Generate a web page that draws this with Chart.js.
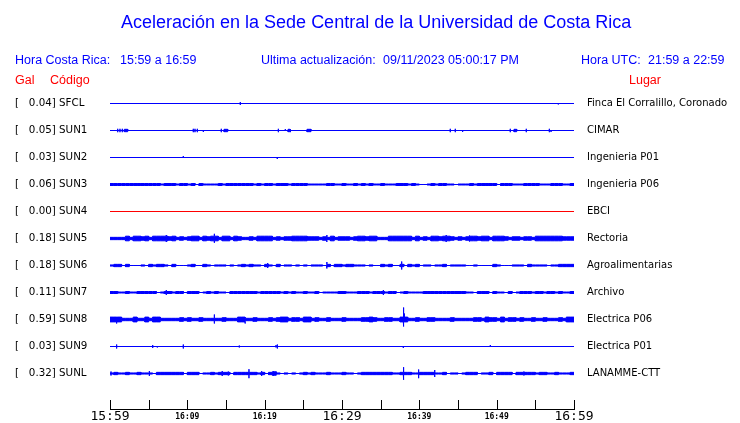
<!DOCTYPE html>
<html>
<head>
<meta charset="utf-8">
<script src="https://cdn.jsdelivr.net/npm/chart.js@4.4.0/dist/chart.umd.min.js"></script>
<style>
  body { margin: 0; background: #fff; }
  #wrap { position: relative; width: 740px; height: 423px; font-family: "Liberation Sans", Arial, sans-serif; }
  #wrap canvas { position: absolute; left: 0; top: 0; }
  .t { position: absolute; white-space: pre; font-size: 12.5px; line-height: 14px; color: #0000ff; }
  .red { color: #ff0000; }
  #title { position: absolute; left: 121px; top: 11px; font-size: 18px; line-height: 22px; color: #0000ff; white-space: pre; }
</style>
</head>
<body>
<div id="wrap">
  <canvas id="grafico" width="740" height="423"></canvas>
  <div id="title">Aceleración en la Sede Central de la Universidad de Costa Rica</div>
  <div class="t" style="left:15px; top:53px">Hora Costa Rica:</div>
  <div class="t" style="left:120px; top:53px">15:59 a 16:59</div>
  <div class="t" style="left:261px; top:53px">Ultima actualización:</div>
  <div class="t" style="left:383px; top:53px">09/11/2023 05:00:17 PM</div>
  <div class="t" style="left:581px; top:53px">Hora UTC:</div>
  <div class="t" style="left:648px; top:53px">21:59 a 22:59</div>
  <div class="t red" style="left:15px; top:73px">Gal</div>
  <div class="t red" style="left:50px; top:73px">Código</div>
  <div class="t red" style="left:629px; top:73px">Lugar</div>
</div>
<script>
// estaciones
const codes = ['SFCL', 'SUN1', 'SUN2', 'SUN3', 'SUN4', 'SUN5', 'SUN6', 'SUN7', 'SUN8', 'SUN9', 'SUNL'];
const gal = [0.04, 0.05, 0.03, 0.06, 0.00, 0.18, 0.18, 0.11, 0.59, 0.03, 0.32];
const places = ['Finca El Corralillo, Coronado', 'CIMAR', 'Ingenieria P01', 'Ingenieria P06', 'EBCI', 'Rectoria',
  'Agroalimentarias', 'Archivo', 'Electrica P06', 'Electrica P01', 'LANAMME-CTT'];
const timeLabels = ['15:59', '16:09', '16:19', '16:29', '16:39', '16:49', '16:59'];

// nivel de ruido cada medio minuto (0 = linea fina)
const sun3Noise = [1,1,1,1,1,1,1,1,1,1,1,1,1, .5,1,1,1,.5,1,1,.5,1,0,1,.5,.5,.5,.5,1,.5,
  1,1,1,1,1,1,1,.5,1,.5,1,1,.5,1,1,1, .5,1,1,1,1,.5,.5,.5,.5,.5,1,1,.5,.5,
  1,.5,.5,1,.5,1,.5,1,.5,.5,1,.5,.5,.5,1,1,1,.5,1,.5,
  0,0,.5,1,.5,1,1,.5,.5,0,.5,.5,.5,1,.5,1,1,1,1,1,
  0,1,1,1,.5,.5,.5,1,1,1,1,.5,.5,.5,1,1,1,.5,.5,1];
const sun5Noise = [1,1,1,1,2,1,2,2,1.5,2,1,2,2,2,2,1.5,2,1,1.5,1,
  1.5,2,2,1,2,1.5,2,2,1,2,2,1,2,1.5,1,1,1.5,1,2,2,
  2,2,1,1.5,1,1.5,1.5,2,2,2,2,1.5,1.5,1.5,1,1.5,1,2,1,1.5,
  1.5,1.5,1,1.5,2,2,1.5,2,2,1,1,1,2,2,2,2,2,2,1,2,
  1,1.5,1,2,2,1.5,2,2,1.5,1,1.5,1,1.5,2,2,1.5,2,2,1,2,
  2,2,1.5,1,1.5,1.5,1,1.5,1.5,1,2,2,2,2,2,2,2,1.5,1.5,1.5];
const sun6Noise = [.5,1,1,0,1,0,0,0,.5,0,1,.5,1,1,.5,0,1,0,0,0,
  .5,1,0,0,1,.5,0,.5,.5,.5,0,.5,0,.5,1,.5,1,.5,.5,0,
  1,.5,0,1,0,.5,.5,0,.5,0,.5,0,.5,.5,.5,0,1,0,1,1,
  .5,1,1,.5,.5,.5,0,.5,0,0,1,.5,1,0,0,1,0,1,.5,1,
  0,.5,.5,0,.5,.5,1,0,.5,.5,.5,.5,0,0,.5,0,0,0,0,1,
  .5,0,0,0,.5,.5,.5,0,1,.5,.5,.5,.5,0,.5,.5,1,1,1,1];
const sun7Noise = [1,1,.5,.5,1,.5,.5,1,1,1,1,1,0,.5,1,1,.5,1,1,0,
  1,1,1,0,.5,1,.5,1,.5,.5,0,1,1,1,1,1,1,1,.5,1,
  1,1,1,1,.5,1,.5,1,.5,.5,1,.5,.5,1,0,.5,.5,.5,.5,1,
  1,.5,.5,.5,1,1,1,.5,1,1,1,.5,1,1,0,.5,1,.5,.5,.5,
  .5,1,1,1,1,1,1,1,1,1,1,1,.5,.5,0,1,1,1,0,1,
  .5,.5,0,1,0,.5,1,1,1,.5,1,1,.5,1,1,.5,1,.5,.5,1];
const sun8Noise = [2,2,2,1,1,1,2,1,1,2,1,2,2,1,1,1,1,1,1.5,1,
  1.5,1,1,1.5,1,1,1,1,1,1.5,1,1,1,2,2,1,1,1.5,1,1,
  1,1.5,1,1.5,2,2,1,1.5,1.5,1,2,2,1,1.5,1,1,1.5,1,1,1,
  1.5,1,1,1,1,1.5,1.5,2,1.5,1,1,1.5,1.5,1,1,2,2,1,1,1.5,
  1,1,1.5,1.5,1,1,1,1,1.5,1,1,1,1,1,1.5,1.5,1,2,1.5,1.5,
  1,2,1,1.5,1.5,1,1.5,1,1,1.5,1,1,1.5,1,1,1,1.5,1,2,2];
const sunlNoise = [.5,1,.5,.5,1,.5,.5,1,.5,.5,.5,0,1,1,1,1,1,1,1,0,
  1,1,1,0,.5,.5,1,.5,1,1,1,0,1,1,1,1,1,1,.5,1,
  0,1,1.5,.5,0,.5,0,.5,0,.5,1,.5,1,.5,.5,.5,1,.5,.5,.5,
  1,.5,.5,0,.5,1,1,1,1,1,1,1,1,.5,.5,1,1,1,.5,.5,
  1,1,1,1,.5,.5,1,0,.5,.5,0,.5,1,1,1,0,.5,.5,1,0,
  1,1,1,1,0,1,1,1,1,1,.5,1,1,.5,.5,1,.5,.5,.5,1];

// picos: [minuto, arriba, abajo]
const sfclSpikes = [[16.85, 1.5, 1.5], [57.97, 0, 1]];
const sun1Spikes = [[1.0, 1.7, 1.7], [1.29, 1.7, 1.7], [1.59, 1.7, 1.7], [10.77, 1.7, 1.7], [10.99, 1.7, 1.7],
  [11.29, 1.7, 1.7], [12.07, 0, 1.5], [14.39, 1.7, 1.7], [21.77, 1.7, 1.7], [22.67, 1.5, 0], [23.36, 0, 1.5],
  [44.0, 1.7, 1.7], [44.65, 1.7, 1.7], [45.6, 0, 1.5], [51.76, 1.7, 1.7], [53.83, 1.7, 1.7], [56.81, 1.7, 1.7], [57.03, 0, 1.5]];
const sun1Bursts = [[1.85, 2.29, 1.2], [14.74, 15.22, 1.2], [23.02, 23.28, 1.2], [25.47, 25.99, 1.2], [52.24, 52.59, 1.2]];
const sun2Spikes = [[9.48, 1.5, 0], [21.63, 0, 1.5]];
const sun5Spikes = [[7.28, 3.5, 3.5], [13.49, 4.7, 4.3], [28.06, 3.5, 3.5], [43.45, 3.5, 3.5], [46.46, 3, 3]];
const sun6Spikes = [[20.39, 2.5, 2.5], [28.06, 3.5, 3], [37.72, 4, 4]];
const sun7Spikes = [[7.28, 2.5, 2.5], [35.35, 2.5, 2.5]];
const sun8Spikes = [[0.86, 2.5, 4], [13.49, 5, 4], [17.46, 2, 4], [37.93, 12, 7], [38.06, 6, 2]];
const sun9Spikes = [[0.86, 2, 2], [5.52, 1.5, 1.5], [6.12, 0, 1], [9.48, 2, 2], [16.72, 1, 1], [21.47, 1.5, 1],
  [21.64, 2, 2], [37.93, 0, 1.5], [49.18, 1.5, 0]];
const sunlSpikes = [[0.13, 2, 2], [5.09, 2.5, 2.5], [14.52, 2.5, 2.5], [15.30, 2, 2], [17.97, 4.3, 4.7], [19.61, 2.5, 2.5],
  [21.12, 2.5, 2.5], [37.93, 6.3, 6.3], [39.91, 4, 4.7], [41.98, 3.5, 3.5], [53.53, 2, 2]];

const BIN = 0.5;      // minutos por nivel de ruido
const SLOT = 27;      // px entre trazas

const traces = [
  { noise: null, unit: 0, bursts: [], spikes: sfclSpikes },
  { noise: null, unit: 0, bursts: sun1Bursts, spikes: sun1Spikes },
  { noise: null, unit: 0, bursts: [], spikes: sun2Spikes },
  { noise: sun3Noise, unit: 1.0, bursts: [], spikes: [] },
  { noise: null, unit: 0, bursts: [], spikes: [] },
  { noise: sun5Noise, unit: 1.15, bursts: [], spikes: sun5Spikes },
  { noise: sun6Noise, unit: 1.15, bursts: [], spikes: sun6Spikes },
  { noise: sun7Noise, unit: 1.0, bursts: [], spikes: sun7Spikes },
  { noise: sun8Noise, unit: 1.2, bursts: [], spikes: sun8Spikes },
  { noise: null, unit: 0, bursts: [], spikes: sun9Spikes },
  { noise: sunlNoise, unit: 1.15, bursts: [], spikes: sunlSpikes }
];

function envelope(tr, idx, sign) {
  const cuts = new Set([0, 60]);
  if (tr.noise) tr.noise.forEach((v, k) => cuts.add(k * BIN));
  tr.bursts.forEach(b => { cuts.add(b[0]); cuts.add(b[1]); });
  tr.spikes.forEach(s => cuts.add(s[0]));
  const xs = [...cuts].sort((a, b) => a - b);

  const amp = t => {
    let a = tr.noise ? tr.noise[Math.min(tr.noise.length - 1, Math.floor(t / BIN))] * tr.unit : 0;
    tr.bursts.forEach(b => { if (t > b[0] && t < b[1]) a = Math.max(a, b[2]); });
    return a;
  };

  const pts = [];
  for (let j = 0; j < xs.length - 1; j++) {
    const t0 = xs[j], t1 = xs[j + 1];
    const a = amp((t0 + t1) / 2);
    tr.spikes.filter(s => s[0] === t0).forEach(s => {
      const h = sign > 0 ? s[1] : s[2];
      if (h > 0) pts.push({ x: t0, y: h });
    });
    pts.push({ x: t0, y: a }, { x: t1, y: a });
  }
  return pts.map(p => ({ x: p.x, y: idx - sign * p.y / SLOT }));
}

let datasets = [];
traces.forEach((tr, i) => {
  const color = gal[i] === 0 ? '#ff0000' : '#0000ff';
  datasets.push({ data: envelope(tr, i, 1), borderColor: color, backgroundColor: color, borderWidth: 1, fill: '+1' });
  datasets.push({ data: envelope(tr, i, -1), borderColor: color, backgroundColor: color, borderWidth: 1, fill: false });
});

const tickMarks = {
  id: 'tickMarks',
  afterDraw(chart) {
    const s = chart.scales.x, ctx = chart.ctx, b = chart.chartArea.bottom;
    ctx.save();
    ctx.strokeStyle = '#000';
    ctx.lineWidth = 1;
    ctx.beginPath();
    s.ticks.forEach(t => {
      const x = Math.round(s.getPixelForValue(t.value)) + 0.5;
      ctx.moveTo(x, b - 9);
      ctx.lineTo(x, b);
    });
    ctx.stroke();
    ctx.restore();
  }
};

const yTicks = scale => { scale.ticks = codes.map((c, i) => ({ value: i })); };
const yRange = { min: -13.5 / SLOT, max: 10 + 35.5 / SLOT, reverse: true };
// sin relleno extra arriba/abajo por las etiquetas
const yFit = w => s => { s.width = w; s.paddingTop = 0; s.paddingBottom = 0; };

new Chart('grafico', {
  type: 'line',
  data: { datasets: datasets },
  plugins: [tickMarks],
  options: {
    responsive: false,
    animation: false,
    devicePixelRatio: 1,
    layout: { padding: { top: 90, left: 15, right: 0, bottom: 0 } },
    elements: { point: { radius: 0 }, line: { tension: 0 } },
    plugins: { legend: { display: false }, tooltip: { enabled: false } },
    scales: {
      x: {
        type: 'linear', min: 0, max: 60,
        grid: { display: false, drawTicks: false },
        border: { display: true, color: '#000', width: 1 },
        ticks: {
          stepSize: 5, autoSkip: false, maxRotation: 0, padding: 0, color: '#000',
          callback: v => v % 10 === 0 ? timeLabels[v / 10] : '',
          font: ctx => (ctx.tick && ctx.tick.value % 30 === 0)
            ? { family: 'DejaVu Sans Mono', size: 13, lineHeight: '15px' }
            : { family: 'DejaVu Sans Mono', size: 8, weight: 'bold', lineHeight: '15px' }
        },
        afterFit: s => { s.height = 14; s.paddingLeft = 0; s.paddingRight = 0; }
      },
      y: {
        position: 'left', ...yRange,
        grid: { display: false, drawTicks: false },
        border: { display: false },
        afterBuildTicks: yTicks,
        afterFit: yFit(95),
        ticks: {
          autoSkip: false, crossAlign: 'far', color: '#000',
          font: { family: 'DejaVu Sans', size: 10.3 },
          callback: (v, i) => '[   ' + gal[i].toFixed(2) + '] ' + codes[i]
        }
      },
      yr: {
        position: 'right', ...yRange,
        grid: { display: false, drawTicks: false },
        border: { display: false },
        afterBuildTicks: yTicks,
        afterFit: yFit(166),
        ticks: {
          autoSkip: false, crossAlign: 'near', padding: 13, color: '#000',
          font: { family: 'DejaVu Sans', size: 10 },
          callback: (v, i) => places[i]
        }
      }
    }
  }
});
</script>
</body>
</html>
